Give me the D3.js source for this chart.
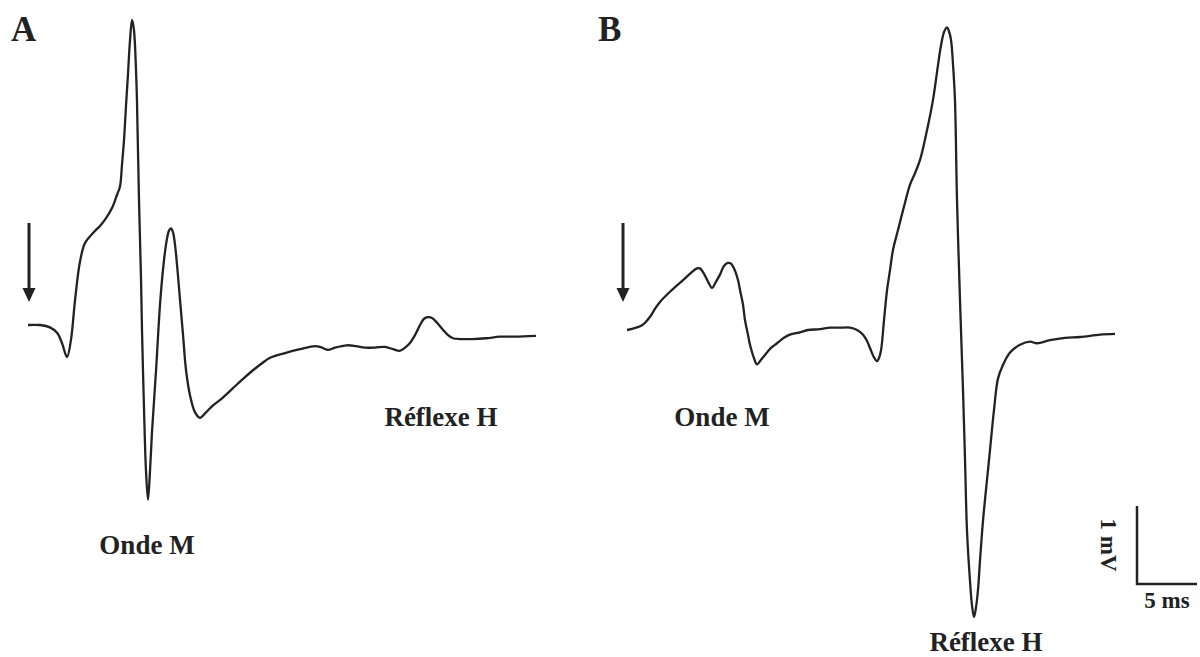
<!DOCTYPE html>
<html>
<head>
<meta charset="utf-8">
<script src="https://cdn.jsdelivr.net/npm/d3@7"></script>
<style>
  body { margin: 0; background: #fff; }
  text { font-family: "Liberation Serif", "Times New Roman", serif; font-weight: bold; fill: #222; }
</style>
</head>
<body>
<script>
// panel A trace: time (ms) from stimulus, voltage (mV)
const timeA = [0,1.0,1.83,2.42,2.83,3.25,3.58,3.92,4.33,4.75,5.42,6.0,6.42,7.0,7.42,7.67,7.83,8.0,8.17,8.33,
  8.5,8.67,8.83,9.0,9.08,9.25,9.42,9.5,9.67,9.83,10.0,10.17,10.33,10.67,11.0,11.25,11.5,11.75,11.92,12.08,
  12.25,12.42,12.67,12.92,13.17,13.5,13.92,14.33,14.83,15.42,16.17,17.08,17.92,18.75,19.5,20.17,21.42,22.67,23.92,24.5,
  25.0,25.58,26.58,27.33,28.08,28.92,29.75,30.42,31.0,31.42,31.83,32.25,32.67,33.0,33.33,33.67,34.08,34.58,35.0,35.42,
  36.0,37.0,38.17,39.33,40.58,42.33];
const voltA = [0,0,-0.03,-0.10,-0.23,-0.41,-0.19,0.32,0.81,1.05,1.18,1.27,1.35,1.50,1.67,1.78,2.05,2.37,2.82,3.21,
  3.65,3.91,3.78,3.27,2.88,1.60,0.58,-0.06,-1.09,-1.86,-2.24,-1.86,-1.38,-0.58,0.26,0.71,1.03,1.21,1.24,1.19,
  1.03,0.77,0.32,-0.13,-0.58,-0.90,-1.12,-1.19,-1.12,-1.03,-0.94,-0.81,-0.69,-0.58,-0.49,-0.42,-0.36,-0.31,-0.27,-0.29,
  -0.32,-0.29,-0.26,-0.27,-0.29,-0.29,-0.28,-0.31,-0.33,-0.29,-0.23,-0.13,0.00,0.08,0.10,0.09,0.03,-0.06,-0.13,-0.17,
  -0.18,-0.18,-0.17,-0.15,-0.15,-0.14];

// panel B trace
const timeB = [0,1.25,1.92,2.33,2.75,3.58,4.67,5.83,6.08,6.42,6.75,7.08,7.42,7.75,8.08,8.42,8.67,9.0,9.25,9.42,
  9.67,9.83,10.08,10.25,10.58,10.83,11.17,11.5,12.0,12.5,13.08,13.58,14.42,15.08,16.08,16.92,17.75,18.58,19.17,19.67,
  20.0,20.25,20.58,20.83,21.0,21.17,21.42,21.67,21.92,22.17,22.58,23.08,23.58,24.0,24.42,25.0,25.5,25.92,26.17,26.42,
  26.67,26.83,27.0,27.17,27.33,27.5,27.75,28.0,28.17,28.33,28.58,28.75,28.92,29.08,29.25,29.42,29.67,30.0,30.25,30.58,
  30.92,31.33,31.92,32.75,33.58,34.17,35.25,36.5,37.75,39.42,40.67];
const voltB = [0,0.06,0.17,0.27,0.36,0.49,0.64,0.79,0.79,0.72,0.62,0.54,0.62,0.71,0.82,0.86,0.85,0.76,0.64,0.51,
  0.32,0.13,-0.06,-0.19,-0.36,-0.44,-0.38,-0.32,-0.23,-0.17,-0.10,-0.06,-0.03,0.00,0.01,0.03,0.03,0.03,0.00,-0.06,
  -0.14,-0.23,-0.35,-0.40,-0.36,-0.26,0.13,0.51,0.77,1.03,1.28,1.58,1.86,2.01,2.18,2.56,2.95,3.40,3.65,3.82,
  3.88,3.83,3.72,3.40,2.95,1.67,0.38,-0.77,-1.67,-2.56,-3.21,-3.53,-3.68,-3.56,-3.33,-2.95,-2.44,-1.92,-1.54,-1.03,
  -0.62,-0.45,-0.29,-0.19,-0.15,-0.17,-0.13,-0.10,-0.09,-0.06,-0.05];

const panelLabels = ['A', 'B'];
const scaleBar = { ms: 5, mV: 1 };

const w = 1200, h = 657;
const svg = d3.select('body').append('svg').attr('width', w).attr('height', h);

// 12 px per ms, 78 px per mV (from the scale bar)
const xA = d3.scaleLinear().domain([0, 10]).range([28, 148]);
const yA = d3.scaleLinear().domain([0, 1]).range([325, 247]);
const xB = d3.scaleLinear().domain([0, 10]).range([627, 747]);
const yB = d3.scaleLinear().domain([0, 1]).range([330, 252]);

const dataA = timeA.map((t, i) => [t, voltA[i]]);
const dataB = timeB.map((t, i) => [t, voltB[i]]);

const lineA = d3.line().x(d => xA(d[0])).y(d => yA(d[1])).curve(d3.curveCatmullRom.alpha(0.5));
const lineB = d3.line().x(d => xB(d[0])).y(d => yB(d[1])).curve(d3.curveCatmullRom.alpha(0.5));

svg.append('path').datum(dataA).attr('d', lineA)
  .attr('fill', 'none').attr('stroke', '#222').attr('stroke-width', 2.3).attr('stroke-linejoin', 'round');
svg.append('path').datum(dataB).attr('d', lineB)
  .attr('fill', 'none').attr('stroke', '#222').attr('stroke-width', 2.3).attr('stroke-linejoin', 'round');

// stimulus arrows
function arrow(x, y1, y2) {
  svg.append('line').attr('x1', x).attr('x2', x).attr('y1', y1).attr('y2', y2 - 10)
    .attr('stroke', '#222').attr('stroke-width', 3);
  svg.append('path')
    .attr('d', `M${x - 6.5},${y2 - 14} L${x + 6.5},${y2 - 14} L${x},${y2} Z`)
    .attr('fill', '#222');
}
arrow(29, 223, 302);
arrow(623, 223, 302);

// panel letters
svg.append('text').attr('x', 11).attr('y', 41).style('font-size', '35px').text(panelLabels[0]);
svg.append('text').attr('x', 598).attr('y', 41).style('font-size', '35px').text(panelLabels[1]);

// wave labels
svg.append('text').attr('x', 147).attr('y', 554).attr('text-anchor', 'middle').style('font-size', '27px').text('Onde M');
svg.append('text').attr('x', 441).attr('y', 426).attr('text-anchor', 'middle').style('font-size', '27px').text('Réflexe H');
svg.append('text').attr('x', 722).attr('y', 426).attr('text-anchor', 'middle').style('font-size', '27px').text('Onde M');
svg.append('text').attr('x', 986).attr('y', 651).attr('text-anchor', 'middle').style('font-size', '27px').text('Réflexe H');

// scale bar
const sx = 1137, sy = 584;
const pxPerMs = xB(1) - xB(0), pxPerMv = yB(0) - yB(1);
svg.append('path')
  .attr('d', `M${sx},${sy - scaleBar.mV * pxPerMv} L${sx},${sy} L${sx + scaleBar.ms * pxPerMs},${sy}`)
  .attr('fill', 'none').attr('stroke', '#222').attr('stroke-width', 2.5);
svg.append('text').attr('x', sx + 30).attr('y', 608).attr('text-anchor', 'middle').style('font-size', '23px')
  .text(scaleBar.ms + ' ms');
svg.append('text').attr('transform', `translate(1101,${sy - 39}) rotate(90)`).attr('text-anchor', 'middle')
  .style('font-size', '23px').text(scaleBar.mV + ' mV');
</script>
</body>
</html>
